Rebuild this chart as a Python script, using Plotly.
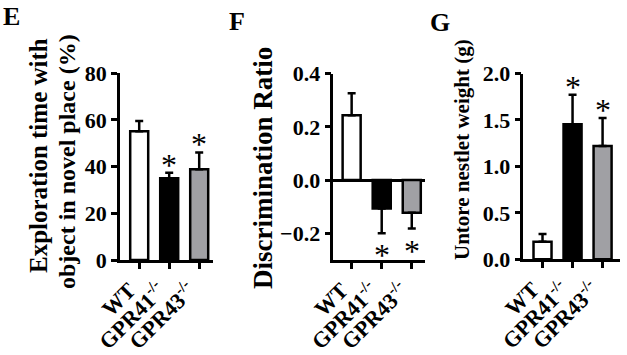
import plotly.graph_objects as go

W, H = 627, 355

categories = ["WT", "GPR41<sup>-/-</sup>", "GPR43<sup>-/-</sup>"]
bar_colors = ["white", "black", "#a0a0a4"]

# Panel E: exploration time with object in novel place (%)
E_mean = [55.2, 35.0, 38.9]
E_sem = [4.4, 2.4, 7.2]
E_ticks = [0, 20, 40, 60, 80]

# Panel F: discrimination ratio
F_mean = [0.244, -0.107, -0.123]
F_sem = [0.082, 0.093, 0.059]
F_ticks = [-0.2, 0.0, 0.2, 0.4]

# Panel G: untore nestlet weight (g)
G_mean = [0.19, 1.455, 1.22]
G_sem = [0.083, 0.315, 0.30]
G_ticks = [0.0, 0.5, 1.0, 1.5, 2.0]

# significance marks (category index)
E_sig = [1, 2]
F_sig = [1, 2]
G_sig = [1, 2]

FONT = "Liberation Serif"
LW = 2.5


def px_x(p):
    return p / W


def px_y(p):
    return 1 - p / H


fig = go.Figure()

panels = [
    (E_mean, E_sem, "", (120, 213), (260, 73.3), [-0.64, 2.46], [0, 80], E_ticks, "d"),
    (F_mean, F_sem, "2", (333.3, 425), (260, 73.6), [-0.61, 2.44], [-0.3, 0.4], F_ticks, ".1f"),
    (G_mean, G_sem, "3", (523.3, 620), (259.3, 73.5), [-0.64, 2.58], [0, 2.0], G_ticks, ".1f"),
]

for mean, sem, ax, (x0, x1), (yb, yt), xr, yr, ticks, fmt in panels:
    up = [s if m >= 0 else 0 for m, s in zip(mean, sem)]
    down = [s if m < 0 else 0 for m, s in zip(mean, sem)]
    fig.add_trace(go.Bar(
        x=categories, y=mean, width=0.6,
        marker=dict(color=bar_colors, line=dict(color="black", width=LW)),
        error_y=dict(type="data", symmetric=False, array=up, arrayminus=down,
                     color="black", thickness=LW, width=4),
        xaxis="x" + ax, yaxis="y" + ax, showlegend=False, hoverinfo="skip",
    ))
    xa = dict(domain=[px_x(x0), px_x(x1)], range=xr, anchor="y" + ax,
              showline=True, linecolor="black", linewidth=LW,
              ticks="outside", ticklen=6, tickwidth=LW, tickcolor="black",
              tickangle=-45, showgrid=False, zeroline=False, automargin=False,
              ticklabelshift=-10,
              tickfont=dict(family=FONT, size=22, color="black", weight="bold"))
    ya = dict(domain=[px_y(yb), px_y(yt)], range=yr, anchor="x" + ax,
              showline=True, linecolor="black", linewidth=LW,
              ticks="outside", ticklen=6, tickwidth=LW, tickcolor="black",
              tickvals=ticks, tickformat=fmt, showgrid=False, automargin=False,
              zeroline=(ax == "2"), zerolinecolor="black", zerolinewidth=LW,
              tickfont=dict(family=FONT, size=22, color="black", weight="bold"))
    fig.layout["xaxis" + ax] = xa
    fig.layout["yaxis" + ax] = ya

annotations = []

# significance asterisks, placed in data coordinates at error bar ends
for mean, sem, ax, sig in [(E_mean, E_sem, "", E_sig), (F_mean, F_sem, "2", F_sig), (G_mean, G_sem, "3", G_sig)]:
    for i in sig:
        m, s = mean[i], sem[i]
        if m >= 0:
            yv, shift = m + s, -12
            anchor = "bottom"
        else:
            yv, shift = m - s, -2
            anchor = "top"
        annotations.append(dict(
            x=categories[i], y=yv, xref="x" + ax, yref="y" + ax,
            text="*", showarrow=False, yanchor=anchor, yshift=shift,
            font=dict(family=FONT, size=32, color="black"),
        ))

# axis titles
titles = [
    ("Exploration time with", 38, 156, 25),
    ("object in novel place (%)", 67, 162, 24),
    ("Discrimination Ratio", 263, 168, 27),
    ("Untore nestlet weight (g)", 462, 150, 21),
]
for t, cx, cy, fs in titles:
    annotations.append(dict(
        x=px_x(cx), y=px_y(cy), xref="paper", yref="paper", text=t,
        textangle=-90, showarrow=False, xanchor="center", yanchor="middle",
        font=dict(family=FONT, size=fs, color="black", weight="bold"),
    ))

# panel letters
for t, cx, cy in [("E", 11.5, 16.5), ("F", 236.5, 21), ("G", 440, 22)]:
    annotations.append(dict(
        x=px_x(cx), y=px_y(cy), xref="paper", yref="paper", text=t,
        showarrow=False, xanchor="center", yanchor="middle",
        font=dict(family=FONT, size=26, color="black", weight="bold"),
    ))

fig.update_layout(
    width=W, height=H,
    margin=dict(l=0, r=0, t=0, b=0, autoexpand=False),
    paper_bgcolor="white", plot_bgcolor="white",
    annotations=annotations,
)

fig.write_html(
    "out.html",
    config={"displayModeBar": False},
    post_script="document.body.style.margin='0';document.body.style.padding='0';",
)
